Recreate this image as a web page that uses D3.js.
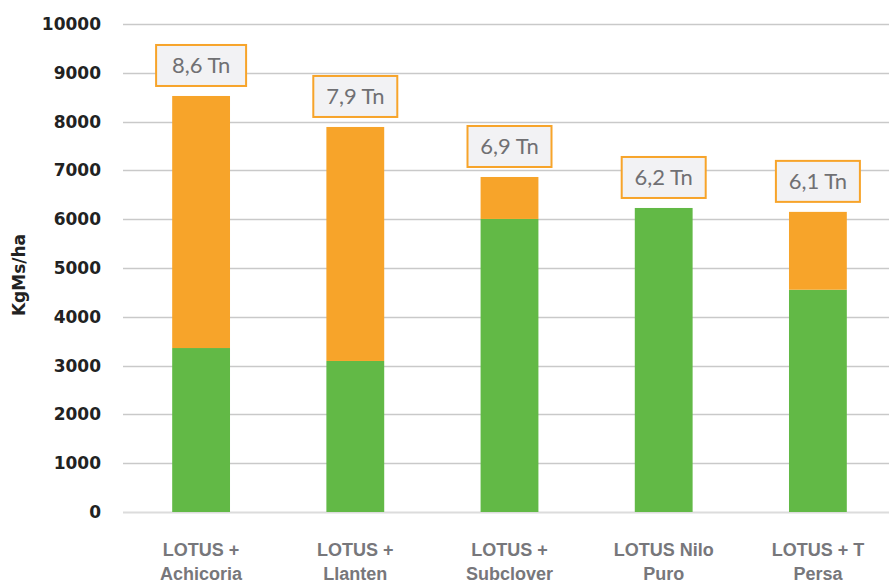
<!DOCTYPE html>
<html>
<head>
<meta charset="utf-8">
<script src="https://cdn.jsdelivr.net/npm/d3@7"></script>
<style>
  body { margin: 0; background: #fff; }
  svg { display: block; }
</style>
</head>
<body>
<div id="chart"></div>
<script>
// categories (two-line labels)
var categories = ["LOTUS + Achicoria", "LOTUS + Llanten", "LOTUS + Subclover", "LOTUS Nilo Puro", "LOTUS + T Persa"];
var labelLines = [["LOTUS +", "Achicoria"], ["LOTUS +", "Llanten"], ["LOTUS +", "Subclover"], ["LOTUS Nilo", "Puro"], ["LOTUS + T", "Persa"]];
// stacked series, KgMs/ha
var greenValues = [3360, 3095, 6005, 6230, 4555];
var orangeValues = [5165, 4795, 860, 0, 1595];
var totalLabels = ["8,6 Tn", "7,9 Tn", "6,9 Tn", "6,2 Tn", "6,1 Tn"];
var yTicks = [0, 1000, 2000, 3000, 4000, 5000, 6000, 7000, 8000, 9000, 10000];

var width = 889, height = 583;
var margin = { top: 24, left: 124, bottom: 71 };

var svg = d3.select("#chart").append("svg")
  .attr("width", width)
  .attr("height", height);

var x = d3.scaleBand()
  .domain(categories)
  .range([margin.left, 895])
  .paddingInner(0.625)
  .paddingOuter(0.3125);

var y = d3.scaleLinear()
  .domain([0, 10000])
  .range([height - margin.bottom, margin.top]);

// gridlines
svg.append("g")
  .selectAll("line")
  .data(yTicks)
  .enter()
  .append("line")
  .attr("x1", 123)
  .attr("x2", width)
  .attr("y1", function(d) { return Math.round(y(d)) + 0.5; })
  .attr("y2", function(d) { return Math.round(y(d)) + 0.5; })
  .attr("stroke", function(d) { return d === 0 ? "#dcdcdc" : "#c9c9c9"; })
  .attr("stroke-width", function(d) { return d === 0 ? 2 : 1.3; });

// y axis labels
var yAxis = d3.axisLeft(y).tickValues(yTicks).tickFormat(d3.format("d")).tickSize(0).tickPadding(0);
var yg = svg.append("g")
  .attr("transform", "translate(101,0)")
  .call(yAxis);
yg.select(".domain").remove();
yg.selectAll("text")
  .attr("font-family", "DejaVu Sans, sans-serif")
  .attr("font-weight", "bold")
  .attr("font-size", 17)
  .attr("fill", "#222");

// y title
svg.append("text")
  .attr("transform", "translate(25,275) rotate(-90)")
  .attr("text-anchor", "middle")
  .attr("font-family", "DejaVu Sans, sans-serif")
  .attr("font-weight", "bold")
  .attr("font-size", 17)
  .attr("fill", "#222")
  .text("KgMs/ha");

var stackData = categories.map(function(c, i) {
  return { cat: c, green: greenValues[i], orange: orangeValues[i] };
});
var series = d3.stack().keys(["green", "orange"])(stackData);
var colors = { green: "#62b946", orange: "#f7a42a" };

svg.append("g")
  .selectAll("g")
  .data(series)
  .enter()
  .append("g")
  .attr("fill", function(s) { return colors[s.key]; })
  .selectAll("rect")
  .data(function(s) { return s; })
  .enter()
  .append("rect")
  .attr("x", function(d) { return x(d.data.cat); })
  .attr("width", x.bandwidth())
  .attr("y", function(d) { return y(d[1]); })
  .attr("height", function(d) { return y(d[0]) - y(d[1]); });

// total labels in boxes
var boxW = 84, boxH = 41;
var lbl = svg.append("g")
  .selectAll("g")
  .data(stackData)
  .enter()
  .append("g")
  .attr("transform", function(d, i) {
    var cx = x(d.cat) + x.bandwidth() / 2;
    var top = y(d.green + d.orange);
    return "translate(" + cx + "," + (top - 10 - boxH / 2) + ")";
  });
lbl.append("rect")
  .attr("x", function(d, i) { return i === 0 ? -45 : -boxW / 2; })
  .attr("y", -boxH / 2)
  .attr("width", function(d, i) { return i === 0 ? 90 : boxW; })
  .attr("height", boxH)
  .attr("fill", "#f2f2f4")
  .attr("stroke", "#f7a42a")
  .attr("stroke-width", 2);
lbl.append("text")
  .attr("text-anchor", "middle")
  .attr("dy", "0.36em")
  .attr("font-family", "Lato, sans-serif")
  .attr("font-size", 22)
  .attr("fill", "#707073")
  .text(function(d, i) { return totalLabels[i]; });

// x labels
var xl = svg.append("g")
  .selectAll("text")
  .data(categories)
  .enter()
  .append("text")
  .attr("text-anchor", "middle")
  .attr("font-family", "Liberation Sans, Arial, sans-serif")
  .attr("font-weight", "bold")
  .attr("font-size", 18)
  .attr("fill", "#77777b")
  .attr("transform", function(d) { return "translate(" + (x(d) + x.bandwidth() / 2) + ",556)"; });
xl.selectAll("tspan")
  .data(function(d, i) { return labelLines[i]; })
  .enter()
  .append("tspan")
  .attr("x", 0)
  .attr("dy", function(d, j) { return j === 0 ? 0 : 24; })
  .text(function(d) { return d; });
</script>
</body>
</html>
